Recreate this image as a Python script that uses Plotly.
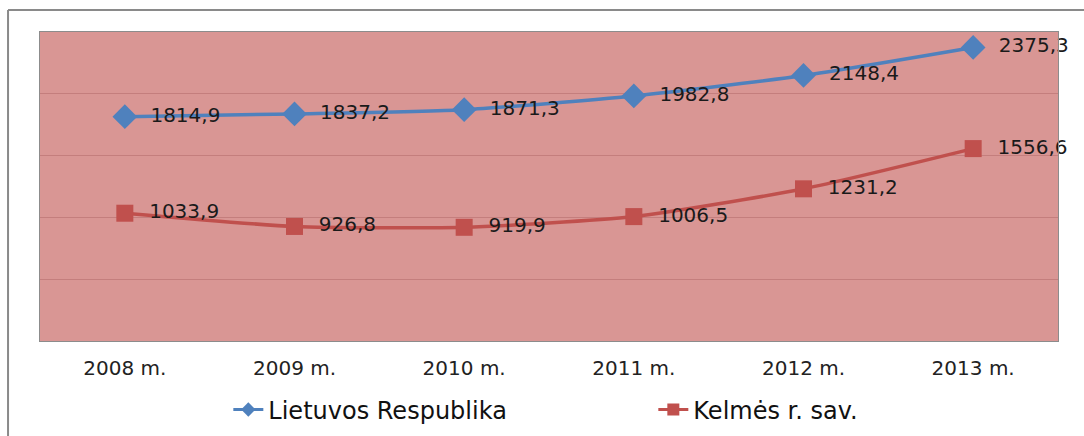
import plotly.graph_objects as go

years = ["2008 m.", "2009 m.", "2010 m.", "2011 m.", "2012 m.", "2013 m."]
lietuva = [1814.9, 1837.2, 1871.3, 1982.8, 2148.4, 2375.3]
kelme = [1033.9, 926.8, 919.9, 1006.5, 1231.2, 1556.6]
series_names = ["Lietuvos Respublika", "Kelmės r. sav."]
colors = ["#4F81BD", "#C0504D"]
symbols = ["diamond", "square"]

def lt(v):
    return "\u00a0\u00a0" + f"{v:.1f}".replace(".", ",")

fig = go.Figure()
for name, vals, col, sym, msize in [
    (series_names[0], lietuva, colors[0], symbols[0], 19),
    (series_names[1], kelme, colors[1], symbols[1], 17),
]:
    fig.add_trace(go.Scatter(
        x=years, y=vals, name=name, mode="lines+markers+text", showlegend=False,
        line=dict(color=col, width=3.5, shape="spline", smoothing=0.6),
        marker=dict(symbol=sym, size=msize, color=col),
        text=[lt(v) for v in vals], textposition="middle right",
        textfont=dict(family="DejaVu Sans", size=20, color="#1a1a1a"),
        cliponaxis=False,
    ))

# legend-only entries with smaller symbols, as in the reference
for name, col, sym, msize in [
    (series_names[0], colors[0], symbols[0], 11),
    (series_names[1], colors[1], symbols[1], 12),
]:
    fig.add_trace(go.Scatter(
        x=[None], y=[None], name=name, mode="lines+markers",
        line=dict(color=col, width=3), marker=dict(symbol=sym, size=msize, color=col),
    ))

fig.update_layout(
    width=1084, height=436,
    margin=dict(l=40, r=26, t=32, b=95, autoexpand=False),
    paper_bgcolor="white",
    plot_bgcolor="#D99694",
    showlegend=True,
    legend=dict(orientation="h", x=0.185, xanchor="left", y=-0.223, yanchor="middle",
                font=dict(family="DejaVu Sans", size=24, color="#111111"),
                entrywidth=380, bgcolor="rgba(0,0,0,0)", tracegroupgap=0),
    font=dict(family="DejaVu Sans"),
)
fig.update_xaxes(
    range=[-0.5, 5.5],
    showgrid=False, showline=True, linecolor="#8c8c8c", linewidth=1, mirror=True,
    ticks="", tickfont=dict(family="DejaVu Sans", size=20, color="#222222"),
    ticklabelstandoff=9, fixedrange=True,
)
fig.update_yaxes(
    range=[0, 2500], dtick=500, showgrid=True, gridcolor="#C47E7D", gridwidth=1,
    showline=True, linecolor="#8c8c8c", linewidth=1, mirror=True,
    showticklabels=False, ticks="", zeroline=False, fixedrange=True,
)

# outer frame lines (left and top), as in the reference
fig.add_shape(type="line", xref="paper", yref="paper", x0=-0.0314, x1=-0.0314, y0=1.071, y1=-0.31,
              line=dict(color="#8a8a8a", width=2))
fig.add_shape(type="line", xref="paper", yref="paper", x0=-0.0314, x1=1.03, y0=1.071, y1=1.071,
              line=dict(color="#8a8a8a", width=2))

fig.write_html("out.html")
